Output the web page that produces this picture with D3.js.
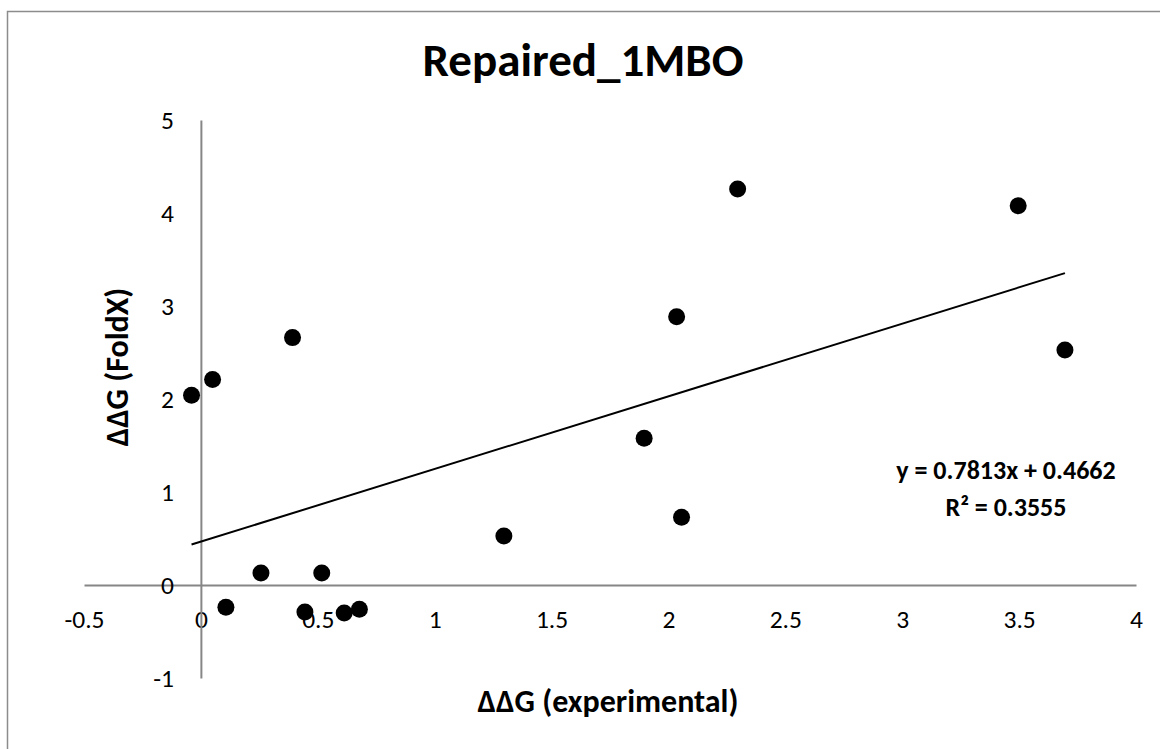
<!DOCTYPE html>
<html>
<head>
<meta charset="utf-8">
<script src="https://cdn.jsdelivr.net/npm/d3@7"></script>
<style>
  body { margin: 0; background: #fff; }
  svg { display: block; font-family: Carlito, Calibri, Lato, "Open Sans", sans-serif; }
</style>
</head>
<body>
<div id="chart"></div>
<script>
const expDDG   = [-0.04, 0.05, 0.107, 0.257, 0.392, 0.445, 0.517, 0.613, 0.678, 1.296, 1.896, 2.035, 2.056, 2.296, 3.496, 3.696];
const foldxDDG = [2.04, 2.21, -0.24, 0.13, 2.66, -0.29, 0.13, -0.30, -0.26, 0.527, 1.577, 2.885, 0.728, 4.258, 4.078, 2.527];
const xTicks = [-0.5, 0, 0.5, 1, 1.5, 2, 2.5, 3, 3.5, 4];
const yTicks = [-1, 0, 1, 2, 3, 4, 5];
const slope = 0.7813, intercept = 0.4662, r2 = 0.3555;

const W = 1160, H = 749;
const data = expDDG.map((d, i) => [d, foldxDDG[i]]);

const svg = d3.select("#chart").append("svg")
    .attr("width", W)
    .attr("height", H);

// chart area border (runs off the right and bottom)
svg.append("rect")
    .attr("x", 7.5).attr("y", 11.5)
    .attr("width", W + 20).attr("height", H + 20)
    .attr("fill", "#fff")
    .attr("stroke", "#8c8c8c")
    .attr("stroke-width", 1.5);

let x = d3.scaleLinear().domain([-0.5, 4]).range([84, 1136]);
let y = d3.scaleLinear().domain([-1, 5]).range([678, 120]);

// x axis crosses at y = 0
let xAxis = svg.append("g")
    .attr("transform", "translate(0," + y(0) + ")")
    .call(d3.axisBottom(x).tickValues(xTicks).tickSize(0).tickPadding(25).tickFormat(d => String(d)));

// y axis crosses at x = 0
let yAxis = svg.append("g")
    .attr("transform", "translate(" + x(0) + ",0)")
    .call(d3.axisLeft(y).tickValues(yTicks).tickSize(0).tickPadding(27).tickFormat(d => String(d)));

[xAxis, yAxis].forEach(g => {
    g.attr("font-family", null).attr("font-size", 25.5);
    g.select(".domain").attr("stroke", "#868686").attr("stroke-width", 2);
    g.selectAll("text").attr("fill", "#000");
});

// linear trendline over the data range
const xr = d3.extent(expDDG);
svg.append("line")
    .attr("x1", x(xr[0])).attr("y1", y(slope * xr[0] + intercept))
    .attr("x2", x(xr[1])).attr("y2", y(slope * xr[1] + intercept))
    .attr("stroke", "#000")
    .attr("stroke-width", 2);

svg.selectAll(".dot")
    .data(data)
    .enter()
    .append("circle")
    .attr("class", "dot")
    .attr("cx", d => x(d[0]))
    .attr("cy", d => y(d[1]))
    .attr("r", 8.5)
    .attr("fill", "#000");

// title
svg.append("text")
    .attr("x", 583).attr("y", 76)
    .attr("text-anchor", "middle")
    .attr("font-size", 47).attr("font-weight", "bold")
    .text("Repaired_1MBO");

// axis titles
svg.append("text")
    .attr("x", 608).attr("y", 712)
    .attr("text-anchor", "middle")
    .attr("font-size", 32).attr("font-weight", "bold")
    .text("ΔΔG (experimental)");

svg.append("text")
    .attr("transform", "translate(128,367) rotate(-90)")
    .attr("text-anchor", "middle")
    .attr("font-size", 32).attr("font-weight", "bold")
    .text("ΔΔG (FoldX)");

// trendline label
svg.append("text")
    .attr("x", 1006).attr("y", 479)
    .attr("text-anchor", "middle")
    .attr("font-size", 26).attr("font-weight", "bold")
    .text("y = " + slope + "x + " + intercept);

svg.append("text")
    .attr("x", 1006).attr("y", 516)
    .attr("text-anchor", "middle")
    .attr("font-size", 26).attr("font-weight", "bold")
    .text("R² = " + r2);
</script>
</body>
</html>
